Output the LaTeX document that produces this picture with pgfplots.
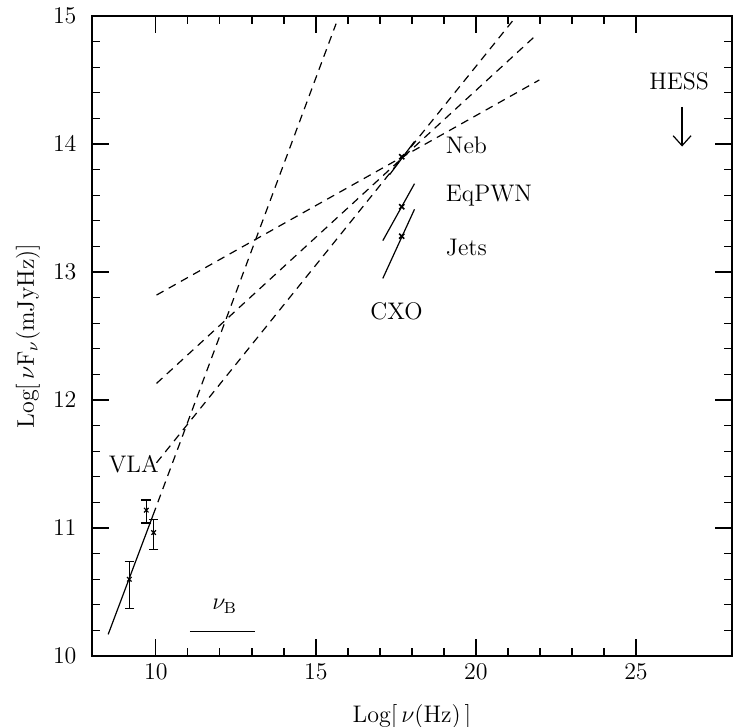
\documentclass[border=0pt,12pt]{standalone}
\usepackage{pgfplots}
\pgfplotsset{compat=1.18}
\usetikzlibrary{arrows.meta}

\begin{document}
\begin{tikzpicture}
  \begin{axis}[
      name=ax,
      scale only axis,
      width=320.5pt,
      height=320.5pt,
      xmin=8, xmax=28,
      ymin=10, ymax=15,
      xtick={10,15,20,25},
      ytick={10,11,12,13,14,15},
      minor x tick num=4,
      minor y tick num=4,
      tick align=inside,
      major tick length=8.5pt,
      minor tick length=4pt,
      axis line style={line width=1pt},
      every tick/.style={black, line width=0.6pt},
      yticklabel style={xshift=-3.5pt},
      xlabel={Log[\,$\nu$(Hz)\,]},
      ylabel={Log[\,$\nu$F$_\nu$(mJyHz)]},
      every axis x label/.style={at={(rel axis cs:0.5,0)}, yshift=-30.5pt, anchor=center},
      every axis y label/.style={at={(rel axis cs:0,0.5)}, xshift=-32pt, rotate=90, anchor=center},
      clip=false,
      every axis plot/.append style={black, line width=0.6pt},
    ]
    % VLA radio spectrum and its extrapolation
    \addplot[solid, no marks] coordinates {(8.51,10.17) (9.91,11.10)};
    \addplot[dash pattern=on 4pt off 3pt, no marks] coordinates {(9.91,11.10) (15.63,14.94)};
    % extrapolations of the X-ray spectra
    \addplot[dash pattern=on 4pt off 3pt, no marks] coordinates {(10.02,11.51) (21.14,14.96)};
    \addplot[dash pattern=on 4pt off 3pt, no marks] coordinates {(10.02,12.13) (21.88,14.85)};
    \addplot[dash pattern=on 4pt off 3pt, no marks] coordinates {(10.02,12.82) (21.98,14.50)};
    % CXO spectra
    \addplot[solid, no marks] coordinates {(17.30,13.76) (18.08,14.02)};
    \addplot[solid, no marks] coordinates {(17.09,13.245) (18.08,13.69)};
    \addplot[solid, no marks] coordinates {(17.09,12.95) (18.08,13.49)};
    \addplot[only marks, mark=x, mark size=1.8pt, mark options={line width=0.8pt}]
      coordinates {(17.68,13.90) (17.68,13.51) (17.68,13.28)};
    % VLA points
    \addplot[only marks, mark=x, mark size=1.6pt,
      error bars/.cd, y dir=both, y explicit,
      error mark=-,
      error bar style={black, line width=0.6pt},
      error mark options={black, line width=0.6pt, mark size=2.4pt, rotate=90}]
      coordinates {
        (9.17,10.60) += (0,0.14) -= (0,0.23)
        (9.70,11.14) += (0,0.08) -= (0,0.10)
        (9.93,10.965) += (0,0.105) -= (0,0.135)
      };
    % break frequency
    \addplot[solid, no marks] coordinates {(11.06,10.19) (13.09,10.19)};
    % HESS upper limit
    \addplot[-{Straight Barb[length=5pt,width=9pt]}, no marks] coordinates {(26.44,14.29) (26.44,13.98)};

    \node[anchor=west, inner sep=0] at (axis cs:19.05,13.99) {Neb};
    \node[anchor=west, inner sep=0] at (axis cs:19.05,13.60) {EqPWN};
    \node[anchor=west, inner sep=0] at (axis cs:19.05,13.19) {Jets};
    \node at (axis cs:17.52,12.69) {CXO};
    \node at (axis cs:9.31,11.50) {VLA};
    \node at (axis cs:26.35,14.49) {HESS};
    \node at (axis cs:12.15,10.39) {$\nu_{\rm B}$};
  \end{axis}
  \pgfresetboundingbox
  \path ([shift={(-46pt,-35pt)}]ax.south west) rectangle ([shift={(0.5pt,8pt)}]ax.north east);
\end{tikzpicture}
\end{document}
